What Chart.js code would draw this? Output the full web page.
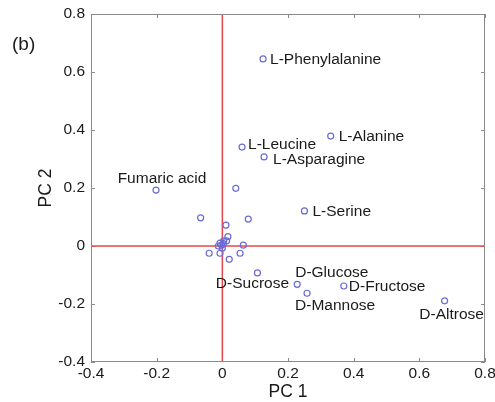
<!DOCTYPE html>
<html>
<head>
<meta charset="utf-8">
<script src="https://cdn.jsdelivr.net/npm/chart.js@4/dist/chart.umd.min.js"></script>
<style>
  html, body { margin: 0; padding: 0; background: #fff; }
  #wrap { width: 495px; height: 402px; }
</style>
</head>
<body>
<div id="wrap"><canvas id="pca"></canvas></div>
<script>
// compound names (empty = unlabelled sample)
const names = [
    'L-Phenylalanine', 'L-Alanine', 'L-Leucine', 'L-Asparagine', 'Fumaric acid', 'L-Serine',
    'D-Sucrose', 'D-Glucose', 'D-Mannose', 'D-Fructose', 'D-Altrose',
    '', '', '', '', '', '', '', '', '', '', '', '', '', '', '', '', ''
];
const pc1 = [
    0.124, 0.33, 0.06, 0.127, -0.202, 0.25,
    0.107, 0.228, 0.258, 0.37, 0.677,
    0.041, -0.066, 0.079, 0.011, 0.017, 0.004, -0.002, -0.007, 0.003, 0.013, -0.012, 0.0,
    0.064, -0.04, -0.007, 0.054, 0.021
];
const pc2 = [
    0.645, 0.379, 0.341, 0.307, 0.193, 0.121,
    -0.093, -0.132, -0.163, -0.138, -0.189,
    0.199, 0.097, 0.093, 0.072, 0.032, 0.018, 0.003, 0.010, 0.008, 0.018, 0.0, -0.007,
    0.003, -0.025, -0.025, -0.025, -0.046
];
const xTicks = [-0.4, -0.2, 0, 0.2, 0.4, 0.6, 0.8];
const yTicks = [-0.4, -0.2, 0, 0.2, 0.4, 0.6, 0.8];

const points = pc1.map((x, i) => ({ x: x, y: pc2[i] }));

const frameColor = '#8a8a8a';
const font = 'Liberation Sans, Arial, sans-serif';

// where each label sits relative to its marker
const labelPlace = {
    'L-Phenylalanine': ['left', 7, 1],
    'L-Alanine': ['left', 8, 1],
    'L-Leucine': ['left', 6, -2],
    'L-Asparagine': ['left', 9, 3],
    'Fumaric acid': ['center', 6, -11],
    'L-Serine': ['left', 8, 1],
    'D-Sucrose': ['center', -5, 11],
    'D-Glucose': ['left', -2, -12],
    'D-Mannose': ['left', -12, 12],
    'D-Fructose': ['left', 5, 1],
    'D-Altrose': ['center', 7, 14]
};

// red zero lines, inward ticks, box frame, labels and titles
const decorations = {
    id: 'decorations',
    beforeDatasetsDraw(chart) {
        const { ctx, chartArea: a, scales: { x, y } } = chart;
        ctx.save();
        ctx.strokeStyle = frameColor;
        ctx.lineWidth = 1;
        ctx.strokeRect(a.left + 0.5, a.top + 0.5, a.right - a.left - 1, a.bottom - a.top - 1);
        ctx.beginPath();
        xTicks.forEach(t => {
            const px = Math.round(x.getPixelForValue(t)) + 0.5;
            ctx.moveTo(px, a.bottom); ctx.lineTo(px, a.bottom - 4);
            ctx.moveTo(px, a.top); ctx.lineTo(px, a.top + 4);
        });
        yTicks.forEach(t => {
            const py = Math.round(y.getPixelForValue(t)) + 0.5;
            ctx.moveTo(a.left, py); ctx.lineTo(a.left + 4, py);
            ctx.moveTo(a.right, py); ctx.lineTo(a.right - 4, py);
        });
        ctx.stroke();

        ctx.strokeStyle = '#e8474a';
        ctx.lineWidth = 1.5;
        ctx.beginPath();
        const x0 = x.getPixelForValue(0);
        const y0 = y.getPixelForValue(0);
        ctx.moveTo(x0, a.top + 1); ctx.lineTo(x0, a.bottom - 1);
        ctx.moveTo(a.left + 1, y0); ctx.lineTo(a.right - 1, y0);
        ctx.stroke();
        ctx.restore();
    },
    afterDatasetsDraw(chart) {
        const { ctx, chartArea: a, scales: { x, y } } = chart;
        ctx.save();
        ctx.fillStyle = '#1a1a1a';
        ctx.font = '15.5px ' + font;
        ctx.textBaseline = 'middle';
        names.forEach((name, i) => {
            if (!name) return;
            const [align, dx, dy] = labelPlace[name];
            ctx.textAlign = align;
            ctx.fillText(name, x.getPixelForValue(pc1[i]) + dx, y.getPixelForValue(pc2[i]) + dy);
        });

        ctx.font = '17.5px ' + font;
        ctx.textAlign = 'center';
        ctx.fillText('PC 1', (a.left + a.right) / 2, 392);
        ctx.save();
        ctx.translate(46, (a.top + a.bottom) / 2);
        ctx.rotate(-Math.PI / 2);
        ctx.fillText('PC 2', 0, 0);
        ctx.restore();

        ctx.font = '19px ' + font;
        ctx.textAlign = 'left';
        ctx.fillText('(b)', 12, 45);
        ctx.restore();
    }
};

new Chart(document.getElementById('pca'), {
    type: 'scatter',
    data: {
        datasets: [{
            data: points,
            pointStyle: 'circle',
            pointRadius: 3,
            pointBorderWidth: 1.2,
            pointBorderColor: '#6b6bd6',
            pointBackgroundColor: 'rgba(0,0,0,0)'
        }]
    },
    options: {
        responsive: true,
        maintainAspectRatio: false,
        animation: false,
        events: [],
        layout: { padding: { top: 14, right: 10, left: 0, bottom: 0 } },
        plugins: { legend: { display: false }, tooltip: { enabled: false } },
        scales: {
            x: {
                min: -0.4, max: 0.8,
                afterBuildTicks(scale) { scale.ticks = xTicks.map(v => ({ value: v })); },
                afterFit(scale) {
                    scale.height = 40;
                    scale.paddingLeft = 0;
                    scale.paddingRight = 0;
                },
                grid: { display: false, drawTicks: false },
                border: { display: false },
                ticks: {
                    color: '#1a1a1a', padding: 2,
                    font: { family: font, size: 15.5 },
                    callback: v => String(Math.round(v * 10) / 10)
                }
            },
            y: {
                min: -0.4, max: 0.8,
                afterBuildTicks(scale) { scale.ticks = yTicks.map(v => ({ value: v })); },
                afterFit(scale) {
                    scale.width = 91;
                    scale.paddingTop = 0;
                    scale.paddingBottom = 0;
                },
                grid: { display: false, drawTicks: false },
                border: { display: false },
                ticks: {
                    color: '#1a1a1a', padding: 6,
                    font: { family: font, size: 15.5 },
                    callback: v => String(Math.round(v * 10) / 10)
                }
            }
        }
    },
    plugins: [decorations]
});
</script>
</body>
</html>
